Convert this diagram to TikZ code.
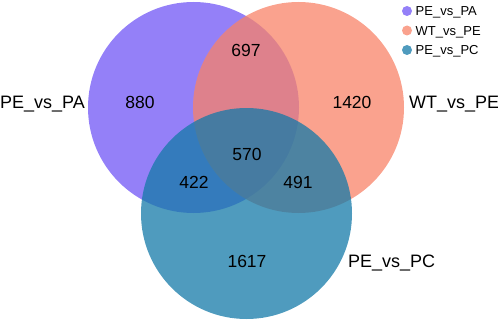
\documentclass[tikz,border=0pt]{standalone}
\usepackage{fontspec}
\setmainfont{Liberation Sans}
\usetikzlibrary{positioning}
\definecolor{vnPA}{RGB}{112,86,246}
\definecolor{vnPE}{RGB}{248,131,104}
\definecolor{vnPC}{RGB}{20,122,168}
\tikzset{
    vnSet/.style={
        circle,
        fill=#1,
        fill opacity=0.75,
        minimum size=211pt,
        inner sep=0pt
    },
    vnCount/.style={font=\fontsize{17.5}{20}\selectfont, inner sep=0pt},
    vnName/.style={font=\fontsize{18}{20}\selectfont, inner sep=0pt, anchor=base west},
    % Legend
    vnKey/.style={circle, fill=#1, fill opacity=0.75, minimum size=10pt, inner sep=0pt},
    vnKeyText/.style={font=\fontsize{13}{15}\selectfont, inner sep=0pt, anchor=base west}
}

\begin{document}
\begin{tikzpicture}[x=1pt, y=-1pt]
\useasboundingbox (0,0) rectangle (498,321);

% Sets
\node[vnSet=vnPA] (setPA) at (193.5,107.5) {};
\node[vnSet=vnPE] (setPE) at (298.5,107.5) {};
\node[vnSet=vnPC] (setPC) at (246.5,213.5) {};

% Counts
\foreach \n/\x/\y/\v in {onlyPA/140/102/880, PAPE/246/50/697, onlyPE/352/102/1420,
    all/247/154/570, PAPC/194/182/422, PEPC/298/182/491, onlyPC/247/261/1617} {
    \node[vnCount] (n\n) at (\x,\y) {\v};
}

% Set names
\node[vnName] (namePA) at (0,108) {PE\_vs\_PA};
\node[vnName] (namePE) at (409,108) {WT\_vs\_PE};
\node[vnName] (namePC) at (348,267) {PE\_vs\_PC};

% Legend
\foreach \i/\c/\t in {0/vnPA/PE\_vs\_PA, 1/vnPE/WT\_vs\_PE, 2/vnPC/PE\_vs\_PC} {
    \node[vnKey=\c] (key\i) at (407, 11+19.5*\i) {};
    \node[vnKeyText] (keyt\i) at (415.5, 15.8+19.5*\i) {\t};
}
\end{tikzpicture}
\end{document}
